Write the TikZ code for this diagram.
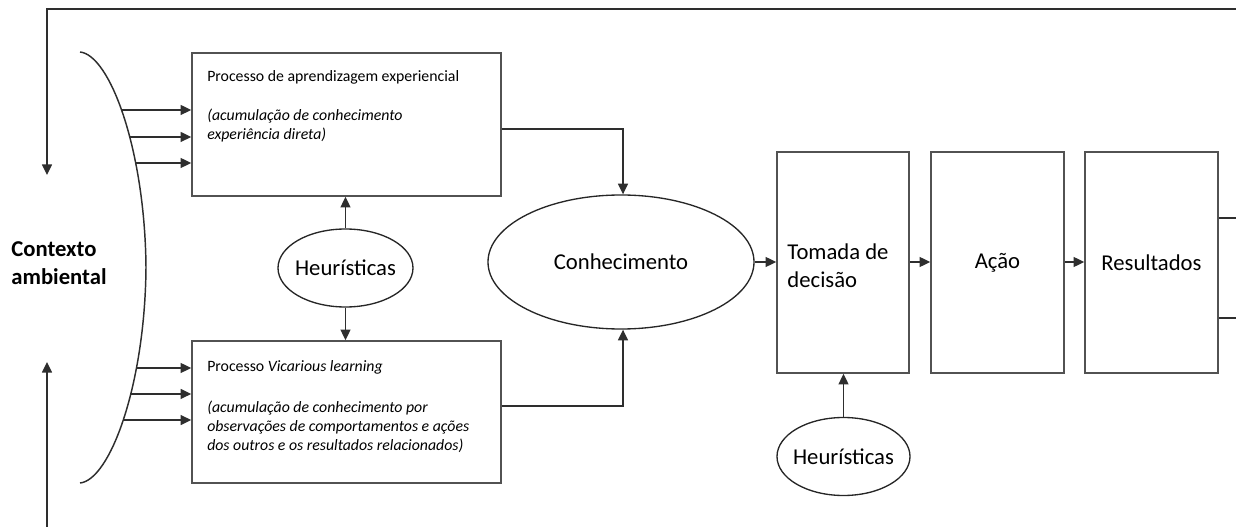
\documentclass[tikz,border=0pt]{standalone}
\usepackage{fontspec}
\setmainfont{Carlito}
\usetikzlibrary{arrows.meta,shapes.geometric,intersections}
\begin{document}
\begin{tikzpicture}[x=0.75pt,y=-0.75pt,
  line/.style={draw=black!82, line width=1.1pt},
  arr/.style={line, -{Triangle[length=8pt,width=7.5pt]}},
  box/.style={draw=black!68, line width=1.2pt, rectangle, inner sep=0pt},
  oval/.style={draw=black!85, line width=1pt, ellipse, inner sep=0pt},
  small/.style={font=\fontsize{11.85}{14.6}\selectfont, align=left, anchor=north west, inner sep=0pt},
  big/.style={font=\fontsize{17}{21}\selectfont},
]
\useasboundingbox (0,0) rectangle (1236,527);

% process boxes
\node[box, minimum width=231.75pt, minimum height=107.25pt] (b1) at (346.5,124.5) {};
\node[box, minimum width=231.75pt, minimum height=106.5pt] (b2) at (346.5,412) {};
\node[small] (t1) at (207,70)
  {Processo de aprendizagem experiencial\\[14.6pt]
   \textit{(acumulação de conhecimento}\\
   \textit{experiência direta)}};
\node[small] (t2) at (207,360)
  {Processo \textit{Vicarious learning}\\[16pt]
   \textit{(acumulação de conhecimento por}\\
   \textit{observações de comportamentos e ações}\\
   \textit{dos outros e os resultados relacionados)}};

% ellipses
\node[oval, big, minimum width=101.25pt, minimum height=58.5pt] (h1) at (345.5,268) {\makebox[0pt]{Heurísticas}};
\node[oval, big, minimum width=199.5pt, minimum height=100.5pt] (know) at (621,262) {\makebox[0pt]{Conhecimento}};
\node[oval, big, minimum width=99.75pt, minimum height=58.5pt] (h2) at (843.5,456.5) {\makebox[0pt]{Heurísticas}};

% decision chain
\node[box, minimum width=99pt, minimum height=165.75pt] (tom) at (843,262.5) {};
\node[big, align=left, inner sep=0pt] (tomt) at (838,266) {Tomada de\\decisão};
\node[box, big, minimum width=99.75pt, minimum height=165.75pt] (aca) at (997.5,262.5) {Ação};
\node[box, big, minimum width=99.75pt, minimum height=165.75pt] (res) at (1151.5,262.5) {Resultados};

% environment label
\node[big, font=\fontsize{17}{21}\selectfont\bfseries, align=left, inner sep=0pt] (ctx) at (59,263) {Contexto\\ambiental};

% bracket of the environment
\draw[line, name path=brk] (80,52) .. controls (110,55) and (145,150) .. (146,267.5)
  .. controls (145,385) and (110,480) .. (80,483);

% inputs from the environment
\foreach \yy [count=\i] in {110,137,163} {
  \path[name path=ra\i] (60,\yy) -- (190,\yy);
  \path[name intersections={of=brk and ra\i, by={sa\i}}];
  \draw[arr] (sa\i) -- (b1.west |- sa\i);
}
\foreach \yy [count=\i] in {368,394,420} {
  \path[name path=rb\i] (60,\yy) -- (190,\yy);
  \path[name intersections={of=brk and rb\i, by={sb\i}}];
  \draw[arr] (sb\i) -- (b2.west |- sb\i);
}

% heuristics feed the learning processes
\draw[arr] (h1) -- (h1 |- b1.south);
\draw[arr] (h1) -- (h1 |- b2.north);

% learning produces knowledge
\coordinate (k1) at (623,129);
\coordinate (k2) at (623,406);
\draw[arr] (b1.east |- k1) -- (k1) -- (k1 |- know.north);
\draw[arr] (b2.east |- k2) -- (k2) -- (k2 |- know.south);

% knowledge to decision, action and results
\draw[arr] (know.east) -- (tom.west |- know.east);
\draw[arr] (tom.east |- know.east) -- (aca.west |- know.east);
\draw[arr] (aca.east |- know.east) -- (res.west |- know.east);
\draw[arr] (h2) -- (h2 |- tom.south);

% feedback to the environment
\coordinate (fbR) at (1236,9);
\coordinate (fbL) at (47,9);
\coordinate (fbT) at (47,175);
\coordinate (fbB) at (47,527);
\coordinate (fbU) at (47,362);
\draw[arr] (fbR) -- (fbL) -- (fbT);
\draw[arr] (fbB) -- (fbU);
\coordinate (r1) at (1236,218);
\coordinate (r2) at (1236,318);
\draw[line] (res.east |- r1) -- (r1);
\draw[line] (res.east |- r2) -- (r2);
\end{tikzpicture}
\end{document}
